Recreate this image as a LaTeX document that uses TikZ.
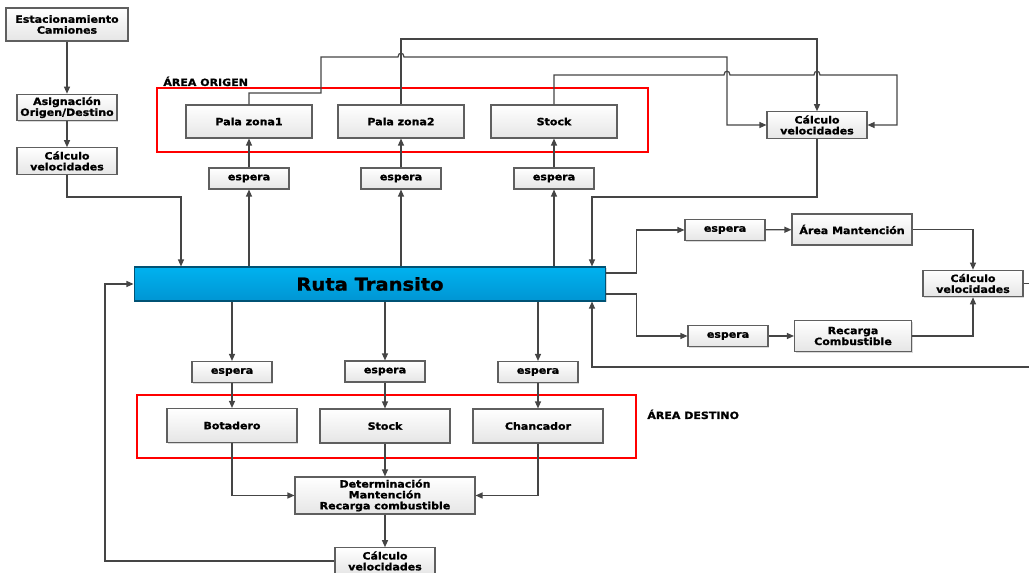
\documentclass[tikz,border=0pt]{standalone}
\usepackage{fontspec}
\setmainfont{DejaVu Sans}[FakeStretch=1.1, BoldFeatures={FakeBold=1.2}]
\usetikzlibrary{arrows.meta,shadows}
\definecolor{linea}{HTML}{454545}
\definecolor{borde}{HTML}{5F5F5F}
\definecolor{celeste}{HTML}{00B2EF}
\definecolor{azul}{HTML}{0095D3}

\begin{document}
\begin{tikzpicture}[x=0.02cm, y=-0.02cm,
  caja/.style={draw=borde, line width=0.6pt, top color=white, bottom color=gray!20,
    align=center, inner sep=0pt, font=\fontsize{5.7}{6.2}\selectfont\bfseries,
    drop shadow={shadow xshift=0.7pt, shadow yshift=-0.7pt, opacity=0.3}},
  espera/.style={caja, minimum width=1.6cm, minimum height=0.42cm},
  calculo/.style={caja, minimum width=2cm, minimum height=0.53cm},
  grande/.style={caja, minimum width=2.52cm, minimum height=0.66cm},
  destino/.style={caja, minimum width=2.6cm, minimum height=0.68cm},
  ruta/.style={draw=azul!55!black, line width=0.6pt, top color=celeste, bottom color=azul,
    minimum width=9.44cm, minimum height=0.68cm, inner sep=0pt,
    font=\fontsize{10.1}{11}\selectfont\bfseries,
    drop shadow={shadow xshift=0.7pt, shadow yshift=-0.7pt, opacity=0.3}},
  etiqueta/.style={anchor=base west, inner sep=0pt, font=\fontsize{5.7}{6.2}\selectfont\bfseries},
  marco/.style={draw=red, line width=0.6pt},
  flecha/.style={draw=linea, line width=0.7pt, -{Triangle[length=4pt,width=3.4pt]}},
  linea/.style={draw=linea, line width=0.7pt}]
\useasboundingbox (0,0) rectangle (1029,573);

% areas
\draw[marco] (157,88) rectangle (648,152);
\draw[marco] (137,395) rectangle (636,458);
\node[etiqueta] (AreaOrigen) at (163,86) {ÁREA ORIGEN};
\node[etiqueta] (AreaDestino) at (647,419) {ÁREA DESTINO};

% left column
\node[caja, minimum width=2.44cm, minimum height=0.66cm] (Estacionamiento) at (67,24.5) {Estacionamiento\\Camiones};
\node[calculo] (Asignacion) at (67,107.5) {Asignación\\Origen/Destino};
\node[calculo] (CalculoA) at (67,161) {Cálculo\\velocidades};

\node[ruta] (Ruta) at (370,284) {Ruta Transito};

% origin
\node[grande] (PalaUno) at (249,121.5) {Pala zona1};
\node[grande] (PalaDos) at (401,121.5) {Pala zona2};
\node[grande] (StockO) at (554,121.5) {Stock};
\node[espera] (EsperaUno) at (249,178.5) {espera};
\node[espera] (EsperaDos) at (401,178.5) {espera};
\node[espera] (EsperaTres) at (554,178.5) {espera};
\node[calculo] (CalculoO) at (817,125) {Cálculo\\velocidades};

% maintenance and fuel
\node[espera] (EsperaM) at (725,230) {espera};
\node[caja, minimum width=2.4cm, minimum height=0.62cm] (Mantencion) at (852,229.5) {Área Mantención};
\node[espera] (EsperaC) at (728,336) {espera};
\node[caja, minimum width=2.34cm, minimum height=0.62cm] (Recarga) at (853,336) {Recarga\\Combustible};
\node[calculo] (CalculoM) at (973,283.5) {Cálculo\\velocidades};

% destination
\node[espera] (EsperaD1) at (232,372) {espera};
\node[espera] (EsperaD2) at (385,371.5) {espera};
\node[espera] (EsperaD3) at (538,372) {espera};
\node[destino] (Botadero) at (232,425.5) {Botadero};
\node[destino] (StockD) at (385,426) {Stock};
\node[destino] (Chancador) at (538,426) {Chancador};
\node[caja, minimum width=3.6cm, minimum height=0.74cm] (Determinacion) at (385,495.5) {Determinación\\Mantención\\Recarga combustible};
\node[calculo] (CalculoB) at (385,561) {Cálculo\\velocidades};

% connectors
\draw[flecha] (Estacionamiento) -- (Asignacion);
\draw[flecha] (Asignacion) -- (CalculoA);
\draw[flecha] (CalculoA) |- (181,197) -- (Ruta.north -| 181,0);

\draw[flecha] (Ruta.north -| EsperaUno) -- (EsperaUno);
\draw[flecha] (Ruta.north -| EsperaDos) -- (EsperaDos);
\draw[flecha] (Ruta.north -| EsperaTres) -- (EsperaTres);
\draw[flecha] (EsperaUno) -- (PalaUno);
\draw[flecha] (EsperaDos) -- (PalaDos);
\draw[flecha] (EsperaTres) -- (StockO);

\draw[flecha] (PalaUno.north) -- (249,93) -- (321,93) -- (321,57) -- (398,57)
  .. controls (398,52) and (404,52) .. (404,57) -- (727,57) |- (CalculoO.west);
\draw[flecha] (PalaDos.north) |- (817,39) -- (CalculoO.north);
\draw[flecha] (StockO.north) |- (724,75)
  .. controls (724,70) and (730,70) .. (730,75) -- (814,75)
  .. controls (814,70) and (820,70) .. (820,75) -- (897,75) |- (CalculoO.east);
\draw[flecha] (CalculoO.south) |- (592,197) -- (Ruta.north -| 592,0);

\draw[flecha] ([yshift=0.22cm]Ruta.east) -- ++(30,0) |- (EsperaM);
\draw[flecha] (EsperaM) -- (Mantencion);
\draw[flecha] (Mantencion) -| (CalculoM);
\draw[flecha] ([yshift=-0.2cm]Ruta.east) -- ++(30,0) |- (EsperaC);
\draw[flecha] (EsperaC) -- (Recarga);
\draw[flecha] (Recarga) -| (CalculoM);
\draw[flecha] (CalculoM.east) -- (1045,283.5) |- (592,367) -- (Ruta.south -| 592,0);

\draw[flecha] (Ruta.south -| EsperaD1) -- (EsperaD1);
\draw[flecha] (Ruta.south -| EsperaD2) -- (EsperaD2);
\draw[flecha] (Ruta.south -| EsperaD3) -- (EsperaD3);
\draw[flecha] (EsperaD1) -- (Botadero);
\draw[flecha] (EsperaD2) -- (StockD);
\draw[flecha] (EsperaD3) -- (Chancador);
\draw[flecha] (Botadero) |- (Determinacion);
\draw[flecha] (StockD) -- (Determinacion);
\draw[flecha] (Chancador) |- (Determinacion);
\draw[flecha] (Determinacion) -- (CalculoB);
\draw[flecha] (CalculoB) -| (105,0 |- Ruta.west) -- (Ruta.west);
\end{tikzpicture}
\end{document}
